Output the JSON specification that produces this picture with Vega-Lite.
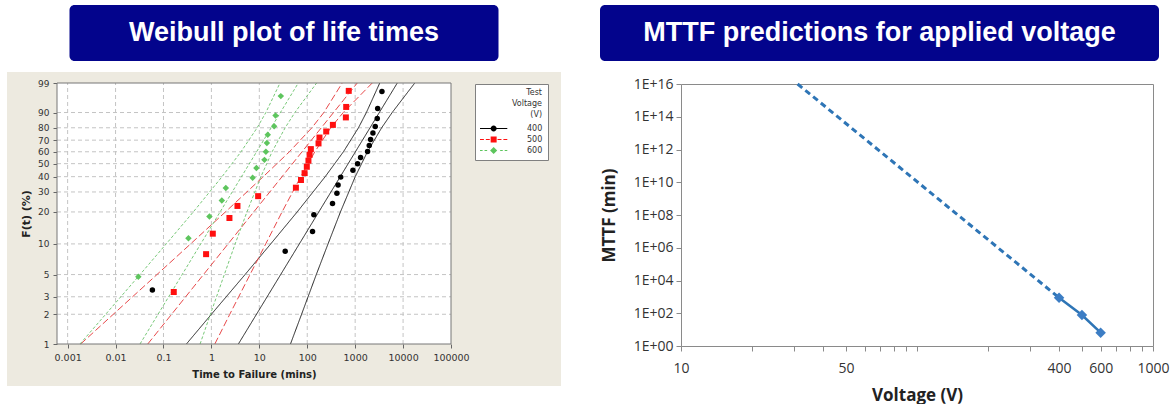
{
  "$schema": "https://vega.github.io/schema/vega-lite/v6.json",
  "background": "white",
  "padding": {"left": 7, "top": 5, "right": 0, "bottom": 0},
  "config": {"view": {"stroke": null}, "font": "DejaVu Sans", "axis": {"labelOverlap": false, "labelFlush": false}},
  "datasets": {
    "wpts": [
      {"Voltage": "600", "t": 0.0299, "F": 4.8},
      {"Voltage": "600", "t": 0.332, "F": 11.8},
      {"Voltage": "600", "t": 0.91, "F": 18.6},
      {"Voltage": "600", "t": 1.65, "F": 25.7},
      {"Voltage": "600", "t": 2.0, "F": 32.6},
      {"Voltage": "600", "t": 7.25, "F": 39.3},
      {"Voltage": "600", "t": 8.7, "F": 46.6},
      {"Voltage": "600", "t": 12.8, "F": 53.2},
      {"Voltage": "600", "t": 13.7, "F": 60.1},
      {"Voltage": "600", "t": 14.4, "F": 67.5},
      {"Voltage": "600", "t": 15.0, "F": 74.3},
      {"Voltage": "600", "t": 20.4, "F": 81.0},
      {"Voltage": "600", "t": 21.8, "F": 88.0},
      {"Voltage": "600", "t": 28.1, "F": 95.0},
      {"Voltage": "500", "t": 0.164, "F": 3.43},
      {"Voltage": "500", "t": 0.775, "F": 8.33},
      {"Voltage": "500", "t": 1.07, "F": 13.2},
      {"Voltage": "500", "t": 2.38, "F": 18.1},
      {"Voltage": "500", "t": 3.5, "F": 23.0},
      {"Voltage": "500", "t": 9.45, "F": 27.9},
      {"Voltage": "500", "t": 58, "F": 32.8},
      {"Voltage": "500", "t": 74, "F": 37.8},
      {"Voltage": "500", "t": 88, "F": 42.7},
      {"Voltage": "500", "t": 98, "F": 47.6},
      {"Voltage": "500", "t": 106, "F": 52.5},
      {"Voltage": "500", "t": 112, "F": 57.4},
      {"Voltage": "500", "t": 119, "F": 62.3},
      {"Voltage": "500", "t": 172, "F": 67.2},
      {"Voltage": "500", "t": 180, "F": 72.1},
      {"Voltage": "500", "t": 249, "F": 77.0},
      {"Voltage": "500", "t": 343, "F": 81.9},
      {"Voltage": "500", "t": 640, "F": 86.8},
      {"Voltage": "500", "t": 650, "F": 91.7},
      {"Voltage": "500", "t": 735, "F": 96.6},
      {"Voltage": "400", "t": 0.0587, "F": 3.6},
      {"Voltage": "400", "t": 34.7, "F": 8.8},
      {"Voltage": "400", "t": 129, "F": 13.9},
      {"Voltage": "400", "t": 137.5, "F": 19.1},
      {"Voltage": "400", "t": 337, "F": 24.2},
      {"Voltage": "400", "t": 416, "F": 29.4},
      {"Voltage": "400", "t": 440, "F": 34.5},
      {"Voltage": "400", "t": 500, "F": 39.7},
      {"Voltage": "400", "t": 898, "F": 44.9},
      {"Voltage": "400", "t": 1124, "F": 50.0},
      {"Voltage": "400", "t": 1298, "F": 55.2},
      {"Voltage": "400", "t": 1817, "F": 60.3},
      {"Voltage": "400", "t": 1969, "F": 65.5},
      {"Voltage": "400", "t": 2099, "F": 70.6},
      {"Voltage": "400", "t": 2349, "F": 75.8},
      {"Voltage": "400", "t": 2627, "F": 80.9},
      {"Voltage": "400", "t": 2893, "F": 86.1},
      {"Voltage": "400", "t": 2950, "F": 91.2},
      {"Voltage": "400", "t": 3622, "F": 96.4}
    ],
    "wlines": [
      {"Voltage": "400", "curve": "400c", "t": 3.66, "F": 1},
      {"Voltage": "400", "curve": "400c", "t": 7570, "F": 99},
      {"Voltage": "400", "curve": "400l", "t": 0.301, "F": 1},
      {"Voltage": "400", "curve": "400l", "t": 1.0, "F": 2},
      {"Voltage": "400", "curve": "400l", "t": 5.04, "F": 5},
      {"Voltage": "400", "curve": "400l", "t": 17.3, "F": 10},
      {"Voltage": "400", "curve": "400l", "t": 61.7, "F": 20},
      {"Voltage": "400", "curve": "400l", "t": 237, "F": 40},
      {"Voltage": "400", "curve": "400l", "t": 569, "F": 60},
      {"Voltage": "400", "curve": "400l", "t": 1172, "F": 80},
      {"Voltage": "400", "curve": "400l", "t": 1714, "F": 90},
      {"Voltage": "400", "curve": "400l", "t": 3260, "F": 99},
      {"Voltage": "400", "curve": "400u", "t": 44.7, "F": 1},
      {"Voltage": "400", "curve": "400u", "t": 76.2, "F": 2},
      {"Voltage": "400", "curve": "400u", "t": 154.5, "F": 5},
      {"Voltage": "400", "curve": "400u", "t": 271.5, "F": 10},
      {"Voltage": "400", "curve": "400u", "t": 493, "F": 20},
      {"Voltage": "400", "curve": "400u", "t": 1004, "F": 40},
      {"Voltage": "400", "curve": "400u", "t": 1806, "F": 60},
      {"Voltage": "400", "curve": "400u", "t": 3573, "F": 80},
      {"Voltage": "400", "curve": "400u", "t": 5918, "F": 90},
      {"Voltage": "400", "curve": "400u", "t": 17550, "F": 99},
      {"Voltage": "500", "curve": "500c", "t": 0.047, "F": 1},
      {"Voltage": "500", "curve": "500c", "t": 1105, "F": 99},
      {"Voltage": "500", "curve": "500l", "t": 0.00187, "F": 1},
      {"Voltage": "500", "curve": "500l", "t": 0.00898, "F": 2},
      {"Voltage": "500", "curve": "500l", "t": 0.0731, "F": 5},
      {"Voltage": "500", "curve": "500l", "t": 0.368, "F": 10},
      {"Voltage": "500", "curve": "500l", "t": 1.96, "F": 20},
      {"Voltage": "500", "curve": "500l", "t": 12.1, "F": 40},
      {"Voltage": "500", "curve": "500l", "t": 42.4, "F": 60},
      {"Voltage": "500", "curve": "500l", "t": 125, "F": 80},
      {"Voltage": "500", "curve": "500l", "t": 222, "F": 90},
      {"Voltage": "500", "curve": "500l", "t": 537, "F": 99},
      {"Voltage": "500", "curve": "500u", "t": 1.18, "F": 1},
      {"Voltage": "500", "curve": "500u", "t": 2.42, "F": 2},
      {"Voltage": "500", "curve": "500u", "t": 6.4, "F": 5},
      {"Voltage": "500", "curve": "500u", "t": 13.6, "F": 10},
      {"Voltage": "500", "curve": "500u", "t": 29.8, "F": 20},
      {"Voltage": "500", "curve": "500u", "t": 73.4, "F": 40},
      {"Voltage": "500", "curve": "500u", "t": 144, "F": 60},
      {"Voltage": "500", "curve": "500u", "t": 309, "F": 80},
      {"Voltage": "500", "curve": "500u", "t": 564, "F": 90},
      {"Voltage": "500", "curve": "500u", "t": 2274, "F": 99},
      {"Voltage": "600", "curve": "600c", "t": 0.0324, "F": 1},
      {"Voltage": "600", "curve": "600c", "t": 65.1, "F": 99},
      {"Voltage": "600", "curve": "600l", "t": 0.00181, "F": 1},
      {"Voltage": "600", "curve": "600l", "t": 0.00623, "F": 2},
      {"Voltage": "600", "curve": "600l", "t": 0.0324, "F": 5},
      {"Voltage": "600", "curve": "600l", "t": 0.114, "F": 10},
      {"Voltage": "600", "curve": "600l", "t": 0.419, "F": 20},
      {"Voltage": "600", "curve": "600l", "t": 1.67, "F": 40},
      {"Voltage": "600", "curve": "600l", "t": 4.15, "F": 60},
      {"Voltage": "600", "curve": "600l", "t": 9.01, "F": 80},
      {"Voltage": "600", "curve": "600l", "t": 13.7, "F": 90},
      {"Voltage": "600", "curve": "600l", "t": 27.0, "F": 99},
      {"Voltage": "600", "curve": "600u", "t": 0.581, "F": 1},
      {"Voltage": "600", "curve": "600u", "t": 0.953, "F": 2},
      {"Voltage": "600", "curve": "600u", "t": 1.86, "F": 5},
      {"Voltage": "600", "curve": "600u", "t": 3.13, "F": 10},
      {"Voltage": "600", "curve": "600u", "t": 5.52, "F": 20},
      {"Voltage": "600", "curve": "600u", "t": 10.8, "F": 40},
      {"Voltage": "600", "curve": "600u", "t": 18.5, "F": 60},
      {"Voltage": "600", "curve": "600u", "t": 34.6, "F": 80},
      {"Voltage": "600", "curve": "600u", "t": 55.2, "F": 90},
      {"Voltage": "600", "curve": "600u", "t": 157, "F": 99}
    ],
    "vgrid": [{"t": 0.001}, {"t": 0.01}, {"t": 0.1}, {"t": 1}, {"t": 10}, {"t": 100}, {"t": 1000}, {"t": 10000}],
    "hgrid": [{"F": 2}, {"F": 3}, {"F": 5}, {"F": 10}, {"F": 20}, {"F": 30}, {"F": 40}, {"F": 50}, {"F": 60}, {"F": 70}, {"F": 80}, {"F": 90}],
    "mttf": [
      {"V": 400, "MTTF": 890},
      {"V": 500, "MTTF": 78},
      {"V": 600, "MTTF": 6.5}
    ],
    "extrap": [
      {"V": 31.2, "MTTF": 1e16},
      {"V": 400, "MTTF": 890}
    ]
  },
  "spacing": 38,
  "hconcat": [
    {
      "spacing": 11,
      "center": true,
      "vconcat": [
        {
          "width": 429,
          "height": 56,
          "view": {"fill": "#03048C", "stroke": null, "cornerRadius": 5},
          "data": {"values": [{"title": "Weibull plot of life times"}]},
          "mark": {"type": "text", "font": "Liberation Sans", "fontSize": 27, "fontWeight": "bold", "color": "white", "baseline": "middle", "align": "center"},
          "encoding": {"text": {"field": "title"}}
        },
        {
          "width": 554,
          "height": 314,
          "view": {"fill": "#EDEAE0", "stroke": null},
          "resolve": {"scale": {"color": "independent", "shape": "independent", "size": "independent"}},
          "layer": [
            {
              "data": {"values": [{"lg": "400"}, {"lg": "500"}, {"lg": "600"}]},
              "mark": {"type": "point", "filled": true, "opacity": 1},
              "encoding": {
                "x": {"datum": 1, "type": "quantitative", "scale": {"type": "log", "domain": [0.0006, 100000], "range": [50, 444], "nice": false}},
                "y": {"datum": 50, "type": "quantitative", "scale": {"type": "linear", "domain": [1, 2, 3, 5, 10, 20, 30, 40, 50, 60, 70, 80, 90, 99], "range": [272, 242.26, 224.77, 202.57, 171.91, 139.94, 119.96, 104.66, 91.67, 79.78, 68.15, 55.78, 40.53, 11], "nice": false, "zero": false}},
                "color": {"field": "lg", "type": "nominal", "scale": {"domain": ["400", "500", "600"], "range": ["#000000", "#FF1010", "#5DC55D"]},
                  "legend": {
                    "orient": "none", "legendX": 468, "legendY": 12,
                    "title": ["Test", "Voltage", "(V)"],
                    "titleFont": "DejaVu Sans", "titleFontSize": 8, "titleFontWeight": "normal", "titleColor": "#333333",
                    "titleAlign": "right", "titleAnchor": "end", "titleLineHeight": 11, "titlePadding": 3,
                    "labelFont": "DejaVu Sans", "labelFontSize": 8, "labelColor": "#333333", "labelOffset": 34,
                    "symbolSize": 169, "symbolStrokeWidth": 0, "rowPadding": 0, "padding": 5,
                    "strokeColor": "#808080", "fillColor": "white", "cornerRadius": 0
                  }},
                "shape": {"field": "lg", "type": "nominal", "scale": {"domain": ["400", "500", "600"], "range": [
                  "M-1,-0.08H3.2V0.08H-1Z M1.56,0A0.46,0.46 0 1,1 0.64,0A0.46,0.46 0 1,1 1.56,0Z",
                  "M-1,-0.08H-0.4V0.08H-1Z M-0.1,-0.08H0.5V0.08H-0.1Z M1.7,-0.08H2.3V0.08H1.7Z M2.6,-0.08H3.2V0.08H2.6Z M0.64,-0.46H1.56V0.46H0.64Z",
                  "M-1,-0.08H-0.6V0.08H-1Z M-0.3,-0.08H0.1V0.08H-0.3Z M2.1,-0.08H2.5V0.08H2.1Z M2.8,-0.08H3.2V0.08H2.8Z M1.1,-0.55L1.65,0L1.1,0.55L0.55,0Z"
                ]}}
              }
            },
            {
              "data": {"values": [{}]},
              "mark": {"type": "rect", "fill": "white"},
              "encoding": {
                "x": {"datum": 0.0006, "type": "quantitative", "scale": {"type": "log", "domain": [0.0006, 100000], "range": [50, 444], "nice": false}},
                "x2": {"datum": 100000},
                "y": {"datum": 1, "type": "quantitative", "scale": {"type": "linear", "domain": [1, 2, 3, 5, 10, 20, 30, 40, 50, 60, 70, 80, 90, 99], "range": [272, 242.26, 224.77, 202.57, 171.91, 139.94, 119.96, 104.66, 91.67, 79.78, 68.15, 55.78, 40.53, 11], "nice": false, "zero": false}},
                "y2": {"datum": 99}
              }
            },
            {
              "data": {"name": "vgrid"},
              "mark": {"type": "rule", "stroke": "#c4c4c4", "strokeWidth": 1, "strokeDash": [4, 3]},
              "encoding": {
                "x": {"field": "t", "type": "quantitative", "scale": {"type": "log", "domain": [0.0006, 100000], "range": [50, 444], "nice": false}},
                "y": {"datum": 1, "type": "quantitative", "scale": {"type": "linear", "domain": [1, 2, 3, 5, 10, 20, 30, 40, 50, 60, 70, 80, 90, 99], "range": [272, 242.26, 224.77, 202.57, 171.91, 139.94, 119.96, 104.66, 91.67, 79.78, 68.15, 55.78, 40.53, 11], "nice": false, "zero": false}},
                "y2": {"datum": 99}
              }
            },
            {
              "data": {"name": "hgrid"},
              "mark": {"type": "rule", "stroke": "#c4c4c4", "strokeWidth": 1, "strokeDash": [4, 3]},
              "encoding": {
                "y": {"field": "F", "type": "quantitative", "scale": {"type": "linear", "domain": [1, 2, 3, 5, 10, 20, 30, 40, 50, 60, 70, 80, 90, 99], "range": [272, 242.26, 224.77, 202.57, 171.91, 139.94, 119.96, 104.66, 91.67, 79.78, 68.15, 55.78, 40.53, 11], "nice": false, "zero": false}},
                "x": {"datum": 0.0006, "type": "quantitative", "scale": {"type": "log", "domain": [0.0006, 100000], "range": [50, 444], "nice": false}},
                "x2": {"datum": 100000}
              }
            },
            {
              "data": {"name": "wlines"},
              "mark": {"type": "line", "strokeWidth": 1},
              "encoding": {
                "x": {"field": "t", "type": "quantitative", "scale": {"type": "log", "domain": [0.0006, 100000], "range": [50, 444], "nice": false}},
                "y": {"field": "F", "type": "quantitative", "scale": {"type": "linear", "domain": [1, 2, 3, 5, 10, 20, 30, 40, 50, 60, 70, 80, 90, 99], "range": [272, 242.26, 224.77, 202.57, 171.91, 139.94, 119.96, 104.66, 91.67, 79.78, 68.15, 55.78, 40.53, 11], "nice": false, "zero": false}},
                "detail": {"field": "curve"},
                "stroke": {"field": "Voltage", "type": "nominal", "scale": {"range": ["#222222", "#E8494A", "#78C878"]}, "legend": null},
                "strokeDash": {"field": "Voltage", "type": "nominal", "scale": {"range": [[1, 0], [7, 3], [3, 2]]}, "legend": null}
              }
            },
            {
              "data": {"name": "wpts"},
              "mark": {"type": "point", "filled": true, "opacity": 1},
              "encoding": {
                "x": {"field": "t", "type": "quantitative", "scale": {"type": "log", "domain": [0.0006, 100000], "range": [50, 444], "nice": false},
                  "axis": {"values": [0.001, 0.01, 0.1, 1, 10, 100, 1000, 10000, 100000], "tickCount": 50, "labelExpr": "toString(datum.value)", "offset": -42, "grid": false, "domain": false, "tickSize": 4, "tickColor": "#666666", "labelFont": "DejaVu Sans", "labelFontSize": 9.5, "labelColor": "#333333", "labelPadding": 4, "labelOverlap": false, "labelFlush": false, "title": "Time to Failure (mins)", "titleFont": "DejaVu Sans", "titleFontSize": 10, "titleFontWeight": "bold", "titleColor": "#222222", "titlePadding": 8}},
                "y": {"field": "F", "type": "quantitative", "scale": {"type": "linear", "domain": [1, 2, 3, 5, 10, 20, 30, 40, 50, 60, 70, 80, 90, 99], "range": [272, 242.26, 224.77, 202.57, 171.91, 139.94, 119.96, 104.66, 91.67, 79.78, 68.15, 55.78, 40.53, 11], "nice": false, "zero": false},
                  "axis": {"values": [1, 2, 3, 5, 10, 20, 30, 40, 50, 60, 70, 80, 90, 99], "tickCount": 50, "labelExpr": "toString(datum.value)", "offset": -50, "grid": false, "domain": false, "tickSize": 4, "tickColor": "#666666", "labelFont": "DejaVu Sans", "labelFontSize": 9, "labelColor": "#333333", "labelPadding": 4, "labelOverlap": false, "labelFlush": false, "minExtent": 22, "title": "F(t) (%)", "titleFont": "DejaVu Sans", "titleFontSize": 11, "titleFontWeight": "bold", "titleColor": "#222222", "titlePadding": 4}},
                "color": {"field": "Voltage", "type": "nominal", "scale": {"domain": ["400", "500", "600"], "range": ["#000000", "#FF1010", "#5DC55D"]}, "legend": null},
                "shape": {"field": "Voltage", "type": "nominal", "scale": {"domain": ["400", "500", "600"], "range": ["circle", "square", "diamond"]}, "legend": null},
                "size": {"field": "Voltage", "type": "ordinal", "scale": {"domain": ["400", "500", "600"], "range": [30, 42, 60]}, "legend": null}
              }
            },
            {
              "data": {"values": [{}]},
              "mark": {"type": "rect", "filled": false, "stroke": "#777777", "strokeWidth": 1},
              "encoding": {
                "x": {"datum": 0.0006, "type": "quantitative", "scale": {"type": "log", "domain": [0.0006, 100000], "range": [50, 444], "nice": false}},
                "x2": {"datum": 100000},
                "y": {"datum": 1, "type": "quantitative", "scale": {"type": "linear", "domain": [1, 2, 3, 5, 10, 20, 30, 40, 50, 60, 70, 80, 90, 99], "range": [272, 242.26, 224.77, 202.57, 171.91, 139.94, 119.96, 104.66, 91.67, 79.78, 68.15, 55.78, 40.53, 11], "nice": false, "zero": false}},
                "y2": {"datum": 99}
              }
            }
          ]
        }
      ]
    },
    {
      "spacing": 15,
      "vconcat": [
        {
          "width": 472,
          "height": 56,
          "layer": [
            {
              "data": {"values": [{}]},
              "mark": {"type": "rect", "fill": "#03048C", "cornerRadius": 5},
              "encoding": {
                "x": {"datum": 0, "type": "quantitative", "scale": {"domain": [0, 1], "range": [-81, 478], "nice": false, "zero": false}, "axis": null},
                "x2": {"datum": 1},
                "y": {"datum": 0, "type": "quantitative", "scale": {"domain": [0, 1], "range": [56, 0], "nice": false, "zero": false}, "axis": null},
                "y2": {"datum": 1}
              }
            },
            {
              "data": {"values": [{"title": "MTTF predictions for applied voltage"}]},
              "mark": {"type": "text", "font": "Liberation Sans", "fontSize": 27, "fontWeight": "bold", "color": "white", "baseline": "middle", "align": "center"},
              "encoding": {
                "x": {"datum": 0.5, "type": "quantitative", "scale": {"domain": [0, 1], "range": [-81, 478], "nice": false, "zero": false}, "axis": null},
                "y": {"datum": 0.5, "type": "quantitative", "scale": {"domain": [0, 1], "range": [56, 0], "nice": false, "zero": false}, "axis": null},
                "text": {"field": "title"}
              }
            }
          ]
        },
        {
          "width": 472,
          "height": 262,
          "view": {"stroke": "#8a8a8a", "strokeWidth": 1, "fill": "white"},
          "layer": [
            {
              "data": {"name": "extrap"},
              "mark": {"type": "line", "color": "#2E75B6", "strokeWidth": 3, "strokeDash": [6, 4]},
              "encoding": {
                "x": {"field": "V", "type": "quantitative", "scale": {"type": "log", "domain": [10, 1000], "nice": false}},
                "y": {"field": "MTTF", "type": "quantitative", "scale": {"type": "log", "domain": [1, 1e16], "nice": false}}
              }
            },
            {
              "data": {"name": "mttf"},
              "mark": {"type": "line", "color": "#2E75B6", "strokeWidth": 2.5},
              "encoding": {
                "x": {"field": "V", "type": "quantitative", "scale": {"type": "log", "domain": [10, 1000], "nice": false}},
                "y": {"field": "MTTF", "type": "quantitative", "scale": {"type": "log", "domain": [1, 1e16], "nice": false}}
              }
            },
            {
              "data": {"name": "mttf"},
              "mark": {"type": "point", "shape": "diamond", "filled": true, "size": 110, "color": "#3C7DC4", "opacity": 1},
              "encoding": {
                "x": {"field": "V", "type": "quantitative", "scale": {"type": "log", "domain": [10, 1000], "nice": false},
                  "axis": {"values": [10, 20, 30, 40, 50, 60, 70, 80, 90, 100, 200, 300, 400, 500, 600, 700, 800, 900, 1000], "tickCount": 50, "labelExpr": "indexof([10, 50, 400, 600, 1000], datum.value) >= 0 ? toString(datum.value) : ''", "grid": false, "domain": false, "tickSize": 5, "tickColor": "#8a8a8a", "labelFont": "Open Sans", "labelFontSize": 14, "labelColor": "#333333", "labelPadding": 10, "labelOverlap": false, "labelFlush": false, "title": "Voltage (V)", "titleFont": "Open Sans", "titleFontSize": 17, "titleFontWeight": "bold", "titleColor": "#222222", "titlePadding": 12}},
                "y": {"field": "MTTF", "type": "quantitative", "scale": {"type": "log", "domain": [1, 1e16], "nice": false},
                  "axis": {"values": [1, 100, 10000, 1000000, 100000000, 10000000000, 1000000000000, 100000000000000, 10000000000000000], "tickCount": 50, "labelExpr": "'1E+' + format(log(datum.value) / LN10, '02d')", "grid": false, "domain": false, "tickSize": 5, "tickColor": "#8a8a8a", "labelFont": "Open Sans", "labelFontSize": 14, "labelColor": "#333333", "labelPadding": 3, "labelOverlap": false, "labelFlush": false, "minExtent": 55, "title": "MTTF (min)", "titleFont": "Open Sans", "titleFontSize": 17, "titleFontWeight": "bold", "titleColor": "#222222", "titlePadding": 8}}
              }
            }
          ]
        }
      ]
    }
  ]
}
